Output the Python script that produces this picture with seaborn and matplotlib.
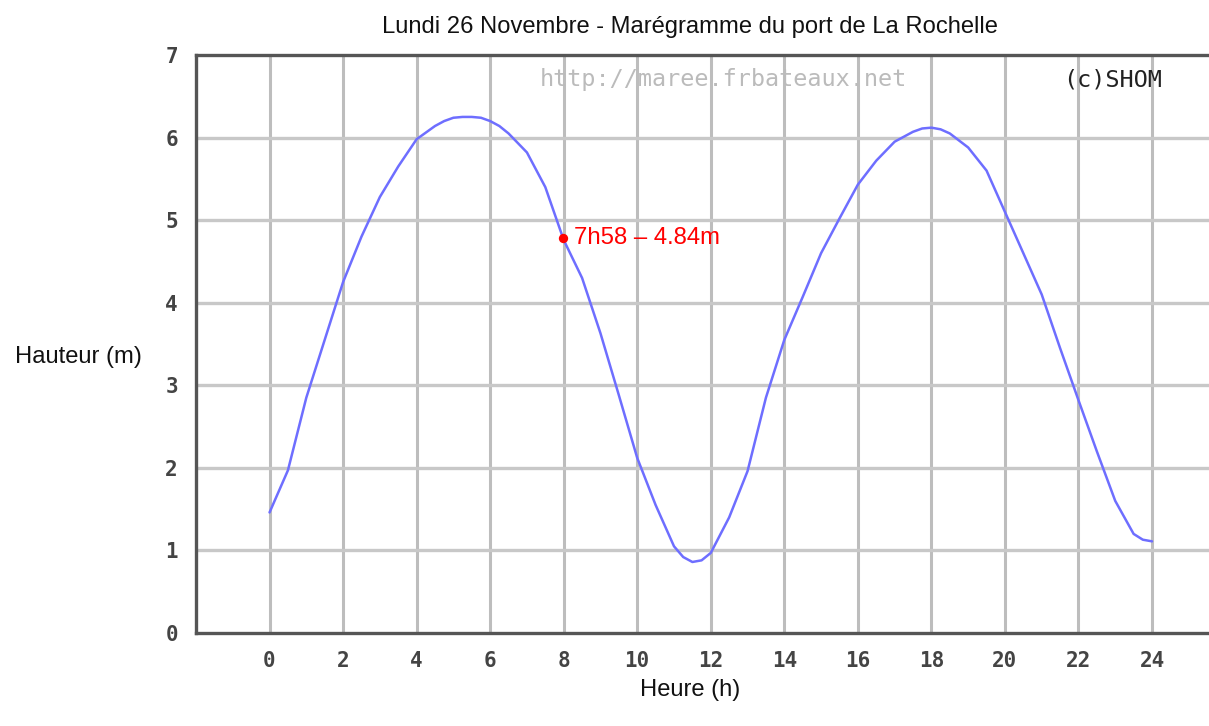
import matplotlib
matplotlib.use("Agg")
import matplotlib.pyplot as plt
import seaborn as sns
import pandas as pd

# ---- data ----
hours = [0, 0.5, 1, 1.5, 2, 2.5, 3, 3.5, 4, 4.5, 4.75, 5, 5.25, 5.5, 5.75, 6,
         6.25, 6.5, 7, 7.5, 8, 8.5, 9, 9.5, 10, 10.5, 11, 11.25, 11.5, 11.75,
         12, 12.5, 13, 13.5, 14, 14.5, 15, 15.5, 16, 16.5, 17, 17.5, 17.75, 18,
         18.25, 18.5, 19, 19.5, 20, 20.5, 21, 21.5, 22, 22.5, 23, 23.5, 23.75,
         24]
heights = [1.46, 1.97, 2.85, 3.55, 4.25, 4.80, 5.28, 5.65, 5.98, 6.14, 6.20,
           6.24, 6.25, 6.25, 6.24, 6.20, 6.14, 6.05, 5.82, 5.40, 4.76, 4.30,
           3.63, 2.88, 2.12, 1.55, 1.05, 0.92, 0.86, 0.88, 0.97, 1.40, 1.96,
           2.85, 3.55, 4.07, 4.60, 5.02, 5.43, 5.72, 5.95, 6.07, 6.11, 6.12,
           6.10, 6.05, 5.88, 5.60, 5.10, 4.60, 4.10, 3.45, 2.82, 2.20, 1.60,
           1.20, 1.13, 1.11]
x_ticks = [0, 2, 4, 6, 8, 10, 12, 14, 16, 18, 20, 22, 24]
y_ticks = [0, 1, 2, 3, 4, 5, 6, 7]
highlight_time = 7.97
highlight_height = 4.78
highlight_label = "7h58 \u2013 4.84m"
title = "Lundi 26 Novembre - Marégramme du port de La Rochelle"
xlabel = "Heure (h)"
ylabel = "Hauteur (m)"

df = pd.DataFrame({"heure": hours, "hauteur": heights})

sns.set_style("white")
plt.rcParams["font.family"] = ["Liberation Sans", "DejaVu Sans"]

fig = plt.figure(figsize=(12.09, 7.26), dpi=100)
ax = fig.add_axes([196 / 1209, 93 / 726, 1013 / 1209, 578 / 726])

ax.set_xlim(-2, 25.55)
ax.set_ylim(0, 7)

# grid
for xv in x_ticks:
    ax.axvline(xv, color="#bdbdbd", lw=2.2, zorder=1)
for yv in y_ticks[1:-1]:
    ax.axhline(yv, color="#c8c8c8", lw=2.4, zorder=1)

sns.lineplot(data=df, x="heure", y="hauteur", ax=ax, color="#6e6eff",
             lw=1.8, zorder=3)

ax.scatter([highlight_time], [highlight_height], s=45, color="red", zorder=5,
           linewidths=0)
ax.annotate(highlight_label, (highlight_time, highlight_height),
            xytext=(8, 0), textcoords="offset points", color="red",
            fontsize=17.2, va="center", ha="left", zorder=6)

# spines
for s in ["left", "bottom", "top"]:
    ax.spines[s].set_color("#555555")
    ax.spines[s].set_linewidth(2.4)
ax.spines["right"].set_visible(False)

ax.set_xticks(x_ticks)
ax.set_yticks(y_ticks)
ax.set_xticklabels([str(v) for v in x_ticks])
ax.set_yticklabels([str(v) for v in y_ticks])
ax.tick_params(axis="x", direction="in", length=9, width=2, color="#222222",
               top=True, bottom=True, pad=13)
ax.tick_params(axis="y", direction="in", length=9, width=2, color="#444444",
               left=True, right=False, pad=13)
for lab in ax.get_xticklabels() + ax.get_yticklabels():
    lab.set_fontfamily("DejaVu Sans Mono")
    lab.set_fontsize(15)
    lab.set_fontweight("bold")
    lab.set_color("#444444")

ax.set_xlabel("")
ax.set_ylabel("")

# watermarks
ax.text(0.3396, 0.957, "http://maree.frbateaux.net", transform=ax.transAxes,
        family="DejaVu Sans Mono", fontsize=16.9, color="#bbbbbb",
        ha="left", va="center", zorder=2)
ax.text(0.9536, 0.957, "(c)SHOM", transform=ax.transAxes,
        family="DejaVu Sans Mono", fontsize=16.9, color="#222222",
        ha="right", va="center", zorder=2)

fig.text(690 / 1209, 1 - 27 / 726, title, ha="center", va="center",
         fontsize=17.1, color="#111111")
fig.text(690 / 1209, 1 - 690 / 726, xlabel, ha="center", va="center",
         fontsize=17.1, color="#111111")
fig.text(78 / 1209, 1 - 357 / 726, ylabel, ha="center", va="center",
         fontsize=17.1, color="#111111")

fig.savefig("out.png", dpi=100)
